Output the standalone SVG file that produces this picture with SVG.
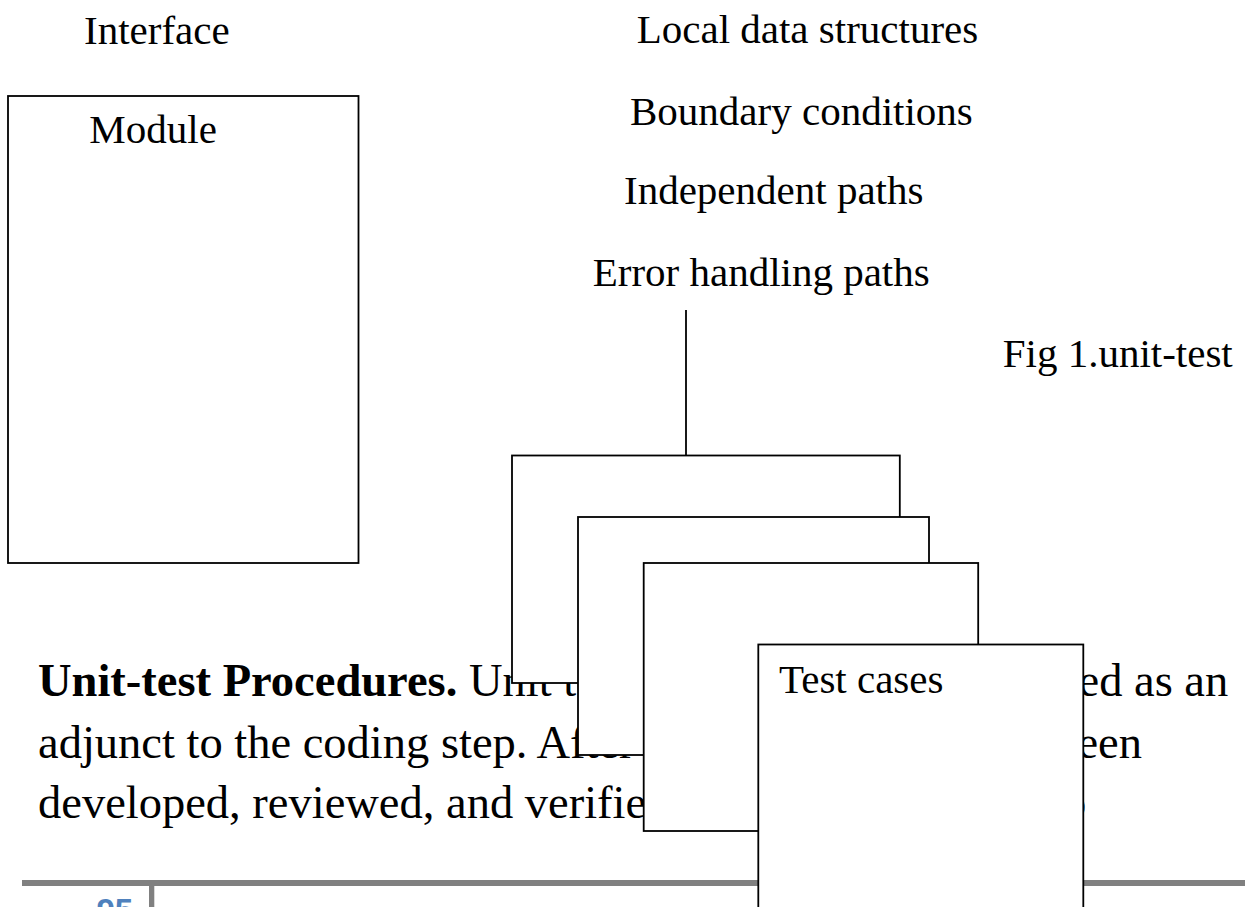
<svg xmlns="http://www.w3.org/2000/svg" width="1245" height="907" viewBox="0 0 1245 907">
  <style>
    .lbl { font-family: "Liberation Serif", "Times New Roman", serif; font-size: 41px; fill: #000; }
    .body { font-family: "Liberation Serif", "Times New Roman", serif; font-size: 46.5px; fill: #000; }
    .box { fill: #fff; stroke: #000; stroke-width: 1.8; }
    .rule { fill: #808080; }
    .pg { font-family: "Liberation Sans", Arial, sans-serif; font-weight: bold; font-size: 33px; fill: #4f81bd; }
  </style>
  <rect width="1245" height="907" fill="#fff"/>

  <!-- module under test -->
  <g id="module">
    <rect class="box" x="8" y="96" width="350.5" height="467"/>
    <text class="lbl" x="89.3" y="143.3">Module</text>
  </g>
  <g id="interface">
    <text class="lbl" x="84" y="44.3">Interface</text>
  </g>

  <!-- aspects exercised by the tests -->
  <g id="local-data">
    <text class="lbl" x="636.7" y="43.3">Local data structures</text>
  </g>
  <g id="boundary">
    <text class="lbl" x="630" y="125">Boundary conditions</text>
  </g>
  <g id="independent">
    <text class="lbl" x="624" y="204">Independent paths</text>
  </g>
  <g id="error-handling">
    <text class="lbl" x="592.7" y="286">Error handling paths</text>
  </g>
  <g id="caption">
    <text class="lbl" x="1002.7" y="366.7">Fig 1.unit-test</text>
  </g>

  <!-- running paragraph beneath the stacked cards -->
  <g id="paragraph">
    <text class="body" x="38" y="696"><tspan font-weight="bold">Unit-test Procedures.</tspan> Unit testing is normally considered as an</text>
    <text class="body" x="38" y="757.7">adjunct to the coding step. After source level code has been</text>
    <text class="body" x="38" y="818.3">developed, reviewed, and verified for correspondence to</text>
  </g>

  <!-- page footer -->
  <g id="footer">
    <rect class="rule" x="22" y="880" width="1223" height="6"/>
    <rect class="rule" x="149" y="886" width="5.3" height="21"/>
    <text class="pg" x="96.5" y="922">95</text>
  </g>

  <!-- stacked test-case cards -->
  <g id="card-1">
    <rect class="box" x="512" y="455.5" width="387.8" height="227.5"/>
  </g>
  <g id="card-2">
    <rect class="box" x="578" y="517" width="351" height="238"/>
  </g>
  <g id="card-3">
    <rect class="box" x="643.7" y="563" width="334.5" height="268"/>
  </g>
  <g id="test-cases">
    <rect class="box" x="758.3" y="644.5" width="325" height="300"/>
    <text class="lbl" x="779" y="693.3">Test cases</text>
  </g>

  <g id="connectors">
    <line x1="686" y1="310" x2="686" y2="455.5" stroke="#000" stroke-width="1.8"/>
  </g>
</svg>
